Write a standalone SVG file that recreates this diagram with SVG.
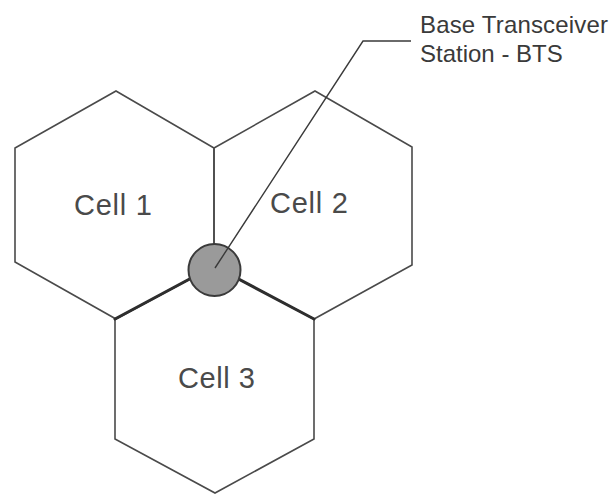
<svg xmlns="http://www.w3.org/2000/svg" width="613" height="494" viewBox="0 0 613 494">
  <style>
    .hex { fill: none; stroke: #4a4a4a; stroke-width: 1.6; stroke-linejoin: miter; }
    .edge { fill: none; stroke: #2e2e2e; stroke-width: 3; stroke-linecap: round; }
    .cell-label { font-family: "Liberation Sans", Arial, sans-serif; font-size: 29px; fill: #4a4a4a; }
    .note { font-family: "Liberation Sans", Arial, sans-serif; font-size: 24px; fill: #3a3a3a; }
    .leader { fill: none; stroke: #3a3a3a; stroke-width: 1.4; }
  </style>
  <rect width="613" height="494" fill="#ffffff"/>

  <g id="cell1">
    <polygon class="hex" points="116,91 214,148 214,266 116,319 15,262 15,148"/>
    <text class="cell-label" x="74" y="215" textLength="78">Cell 1</text>
  </g>

  <g id="cell2">
    <polygon class="hex" points="315,91 412,147 412,265 314,319 214,266 214,148"/>
    <text class="cell-label" x="270" y="213" textLength="78">Cell 2</text>
  </g>

  <g id="cell3">
    <polygon class="hex" points="214,266 314,319 314,439 215,493 115,439 115,319"/>
    <path class="edge" d="M115,319 L214,266 L314,319"/>
    <text class="cell-label" x="178" y="388" textLength="77">Cell 3</text>
  </g>

  <g id="bts">
    <circle cx="214.5" cy="270" r="26" fill="#9a9a9a" stroke="#3a3a3a" stroke-width="2"/>
  </g>

  <g id="connectors">
    <polyline class="leader" points="215,268 363,41 411,41"/>
  </g>

  <g id="bts-label">
    <text class="note" x="420" y="33" textLength="188">Base Transceiver</text>
    <text class="note" x="420" y="62">Station - BTS</text>
  </g>
</svg>
